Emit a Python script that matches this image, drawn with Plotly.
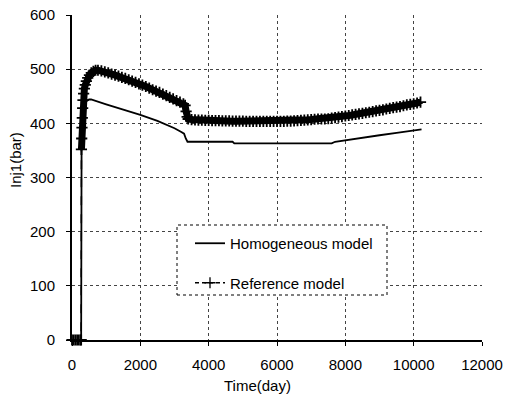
import plotly.graph_objects as go

# ---- data ----
hom_days = [0, 268, 280, 300, 330, 370, 420, 500, 560, 1000, 1500, 2000, 2500, 3000,
            3200, 3280, 3330, 3380, 3500, 4000, 4700, 4750, 5500, 6500, 7600, 7700,
            8000, 8500, 9000, 9500, 10000, 10230]
hom_vals = [0, 0, 352, 400, 425, 436, 441, 444, 444, 435, 425.5, 415.5, 404.5, 391,
            384, 381, 372, 366, 366, 366, 366, 363, 363, 363, 363, 366,
            369, 373, 378, 382.5, 386.5, 389]

ref_days = [0, 50, 100, 150, 200, 250, 268, 276, 284, 292, 302, 312, 322, 340, 362, 389,
            420, 460, 510, 565, 625, 690, 760,
            860, 960, 1060, 1160, 1260, 1360, 1460, 1560, 1660, 1760, 1860, 1960, 2060,
            2160, 2260, 2360, 2460, 2560, 2660, 2760, 2860, 2960, 3060, 3160, 3260, 3310,
            3340, 3370, 3400,
            3500, 3600, 3700, 3800, 3900, 4000, 4100, 4200, 4300, 4400, 4500, 4600, 4700,
            4800, 4900, 5000, 5100, 5200, 5300, 5400, 5500, 5600, 5700, 5800, 5900, 6000,
            6100, 6200, 6300, 6400, 6500, 6600, 6700, 6800, 6900, 7000, 7100, 7200, 7300,
            7400, 7500, 7600, 7700, 7800, 7900, 8000, 8100, 8200, 8300, 8400, 8500, 8600,
            8700, 8800, 8900, 9000, 9100, 9200, 9300, 9400, 9500, 9600, 9700, 9800, 9900,
            10000, 10100, 10200]
ref_vals = [0, 0, 0, 0, 0, 0, 0, 352, 372, 392, 410, 428, 443, 455, 464, 471,
            478, 484, 489, 493, 496, 498, 498,
            497, 495, 493, 491, 489, 487, 485, 483, 480.5, 478, 475.5, 473, 470.5,
            468, 465, 462, 459.5, 457, 454, 451, 448, 445, 442, 439, 436, 433,
            422, 412, 408,
            407, 406.5, 406, 406, 405.5, 405.5, 405, 405, 405, 404.5, 404.5, 404.5, 404,
            404, 404, 404, 403.5, 403.5, 403.5, 403.5, 403.5, 403.5, 403.5, 403.5, 403.5, 403.5,
            403.5, 403.5, 404, 404, 404.5, 405, 405.5, 406, 406.5, 407, 407.5, 408, 408,
            408, 408.5, 409.5, 410.5, 411.5, 412.5, 413.5, 414.5, 415.5, 416.5, 417.5, 418.5, 419.5,
            420.5, 421.5, 423, 424, 425, 426.5, 427.5, 429, 430, 431, 432.5, 434, 435,
            436, 437.5, 439]

x_ticks = [0, 2000, 4000, 6000, 8000, 10000, 12000]
y_ticks = [0, 100, 200, 300, 400, 500, 600]

FONT = "Liberation Sans, Arial, sans-serif"

# index where the marked (plateau/peak) part of the reference curve starts
band_start = ref_days.index(276)

fig = go.Figure()
fig.add_trace(go.Scatter(
    x=hom_days, y=hom_vals, mode="lines", name="Homogeneous model",
    line=dict(color="black", width=1.8), legendgroup="a", cliponaxis=False))
# thick band formed by the dense markers of the reference model
fig.add_trace(go.Scatter(
    x=ref_days[band_start:], y=ref_vals[band_start:], mode="lines",
    line=dict(color="black", width=7), showlegend=False, hoverinfo="skip"))
fig.add_trace(go.Scatter(
    x=ref_days, y=ref_vals, mode="lines+markers", name="Reference model",
    line=dict(color="black", width=1.5, dash="dash"),
    marker=dict(symbol="cross-thin", size=8, line=dict(color="black", width=1.8)),
    showlegend=False, cliponaxis=False))
# legend entry for the reference model
fig.add_trace(go.Scatter(
    x=[None], y=[None], mode="lines+markers", name="Reference model",
    line=dict(color="black", width=1.3, dash="4px,3px"),
    marker=dict(symbol="cross-thin", size=8, line=dict(color="black", width=1.3)),
    legendgroup="b"))

W, H = 505, 402
L, R, T, B = 72, 23, 15, 62
pw, ph = W - L - R, H - T - B

def px_x(p):
    return (p - L) / pw

def px_y(p):
    return (H - B - p) / ph

fig.add_shape(type="rect", xref="paper", yref="paper",
              x0=px_x(177), x1=px_x(387), y0=px_y(295), y1=px_y(225),
              line=dict(color="black", width=1, dash="dot"),
              fillcolor="white", layer="above")

fig.update_layout(
    width=W, height=H,
    margin=dict(l=L, r=R, t=T, b=B),
    paper_bgcolor="white", plot_bgcolor="white",
    font=dict(family=FONT, size=15, color="black"),
    showlegend=True,
    legend=dict(x=px_x(190), y=px_y(227), xanchor="left", yanchor="top",
                bgcolor="rgba(0,0,0,0)", borderwidth=0,
                traceorder="grouped", tracegroupgap=17,
                font=dict(family=FONT, size=15, color="black")),
    xaxis=dict(range=[0, 12000], tickvals=x_ticks, tickformat="d", ticks="outside", ticklen=4,
               tickcolor="black", showline=True, linecolor="black", linewidth=2,
               showgrid=True, gridcolor="#444", griddash="dot", gridwidth=1,
               zeroline=False, ticklabelstandoff=6, automargin=False,
               tickfont=dict(family=FONT, size=15)),
    yaxis=dict(range=[0, 600], tickvals=y_ticks, tickformat="d", ticks="outside", ticklen=4,
               tickcolor="black", showline=True, linecolor="black", linewidth=2,
               showgrid=True, gridcolor="#444", griddash="dot", gridwidth=1,
               zeroline=False, ticklabelstandoff=8, automargin=False,
               tickfont=dict(family=FONT, size=15)),
    annotations=[
        dict(text="Time(day)", xref="paper", yref="paper", x=px_x(257), y=px_y(385),
             showarrow=False, xanchor="center", yanchor="middle",
             font=dict(family=FONT, size=15)),
        dict(text="Inj1(bar)", xref="paper", yref="paper", x=px_x(15), y=px_y(160),
             showarrow=False, textangle=-90, xanchor="center", yanchor="middle",
             font=dict(family=FONT, size=15)),
    ],
)

fig.write_html("out.html", config={"displayModeBar": False},
               post_script="document.body.style.margin='0';")
